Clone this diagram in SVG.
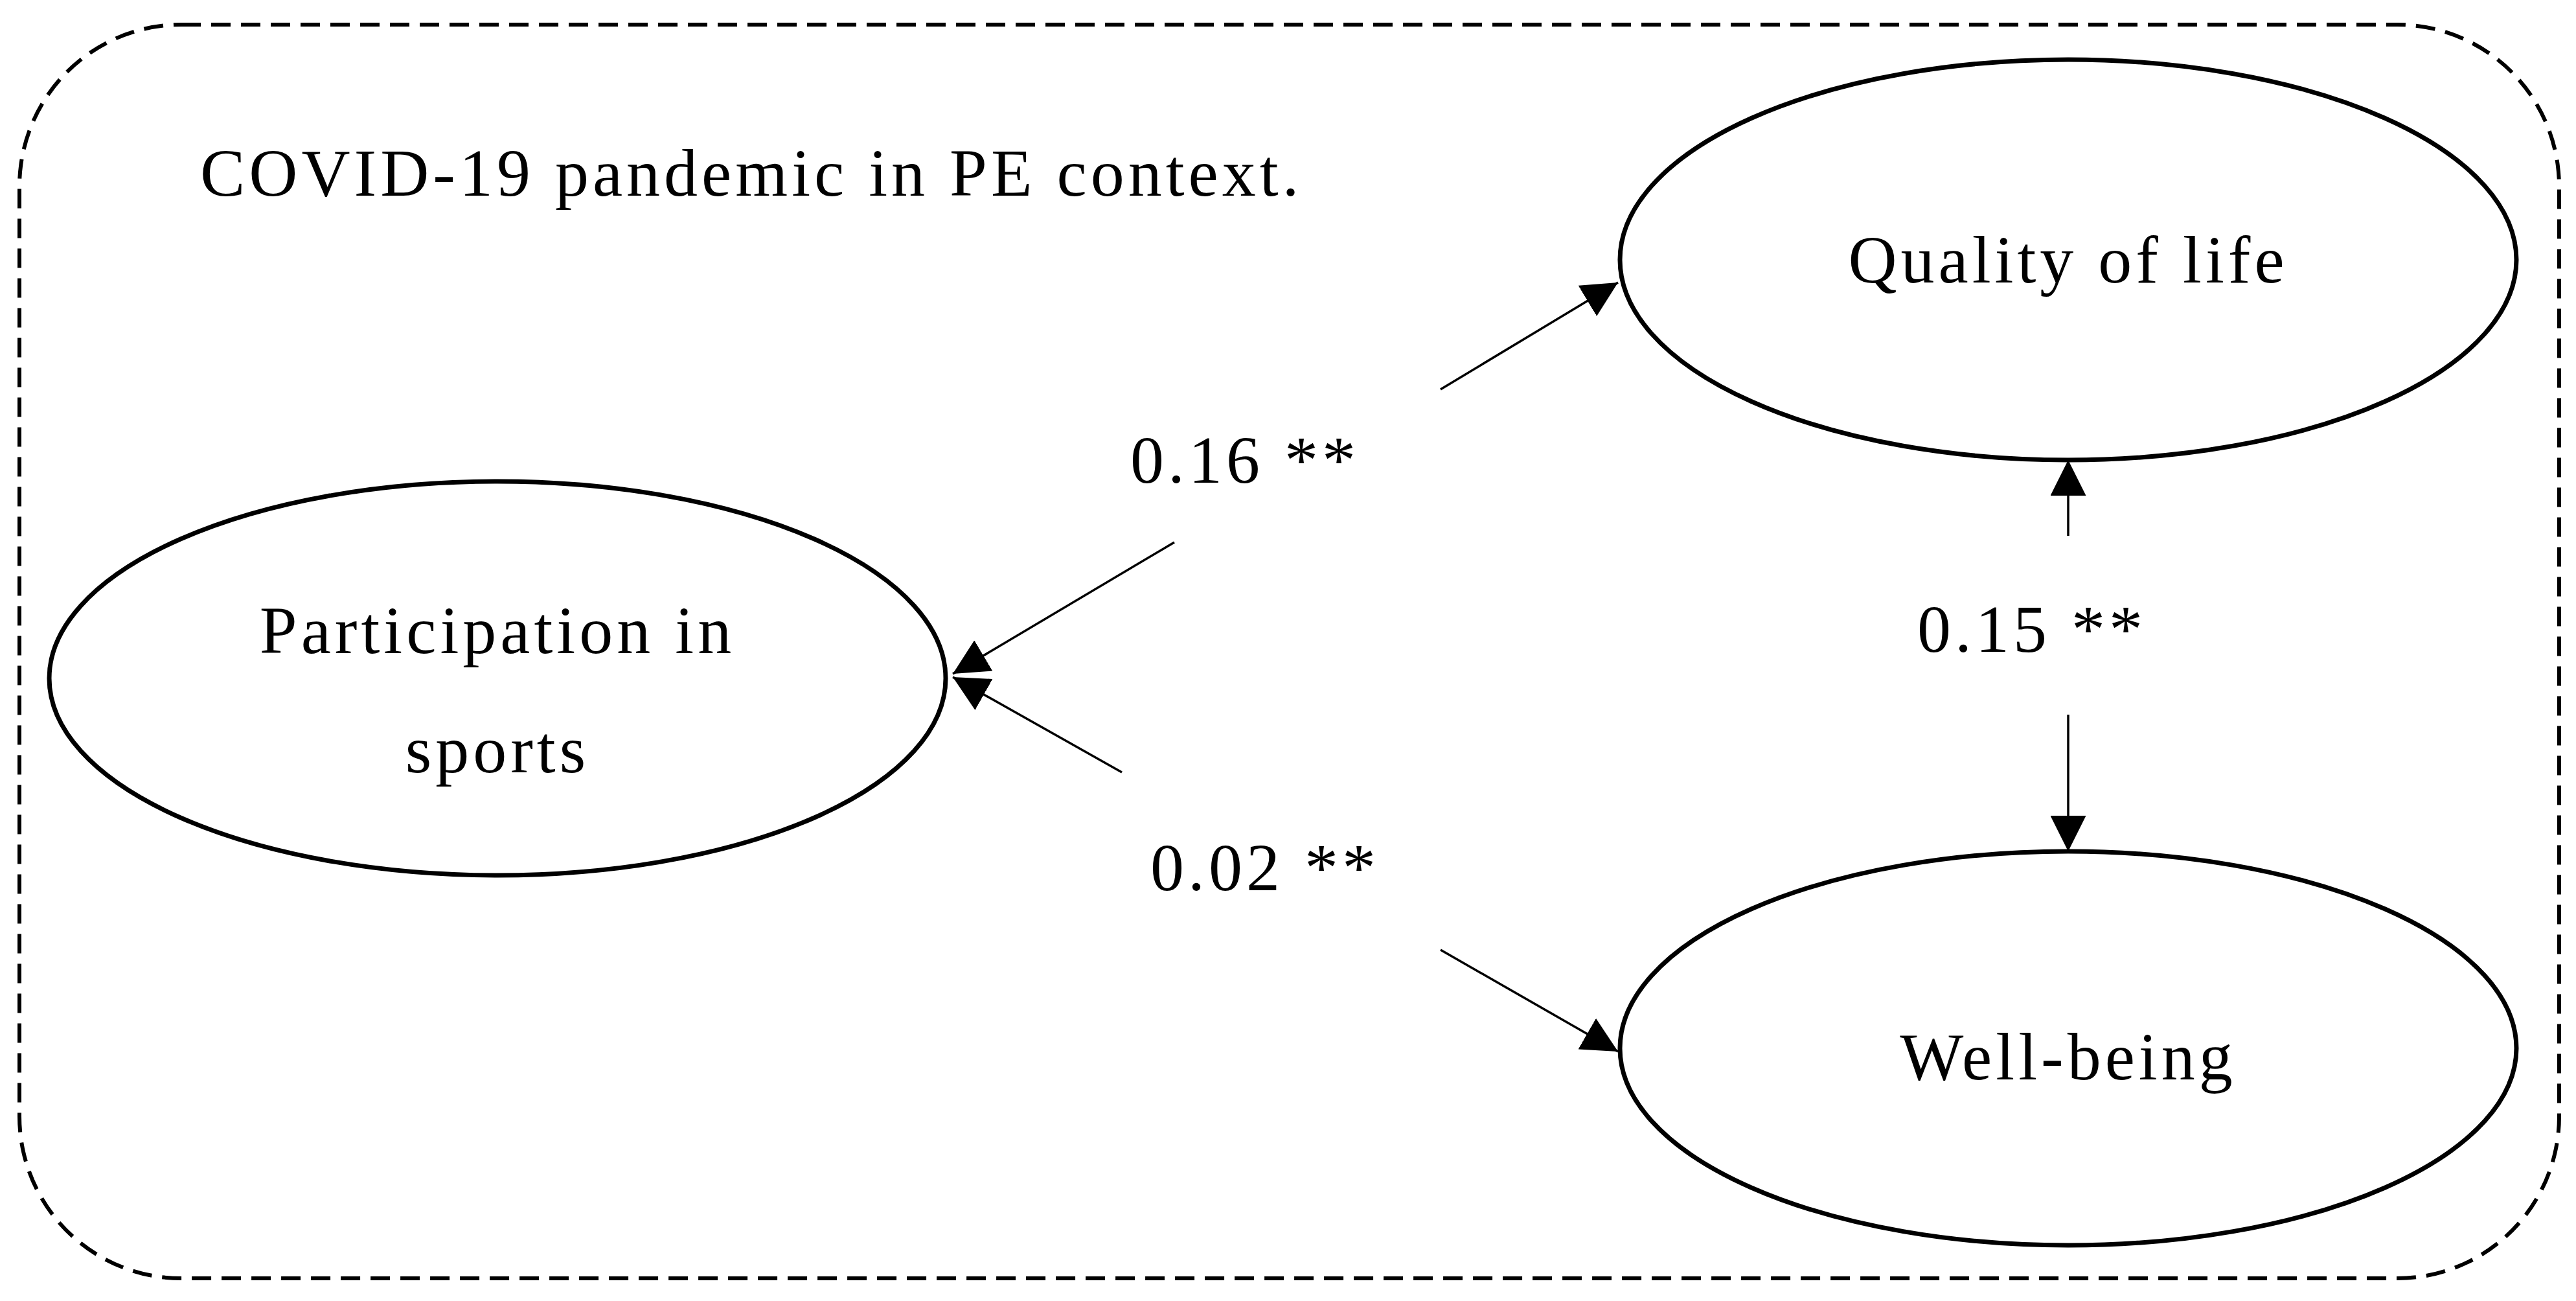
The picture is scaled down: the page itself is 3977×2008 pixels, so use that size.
<svg xmlns="http://www.w3.org/2000/svg" width="3977" height="2008" viewBox="0 0 3977 2008">
<style>
.n{fill:#fff;stroke:#000;stroke-width:7}
.t{font-family:"Liberation Serif",serif;font-size:104px;letter-spacing:6px;fill:#000}
.c{text-anchor:middle}
</style>
<defs>
<marker id="b" viewBox="0 0 10 10" refX="10" refY="5" markerWidth="55" markerHeight="55" markerUnits="userSpaceOnUse" orient="auto"><path d="M0,0L10,5L0,10z" fill="#000"/></marker></defs>
<rect x="30" y="38" width="3921" height="1935" rx="250" fill="none" stroke="#000" stroke-width="6" stroke-dasharray="30 16"/>
<text class="t" x="309" y="302">COVID-19 pandemic in PE context.</text>
<g id="connectors" stroke="#000" stroke-width="3.5" fill="none">
<line x1="2224" y1="601" x2="2498" y2="436" marker-end="url(#b)"/>
<line x1="1813" y1="837" x2="1471" y2="1040" marker-end="url(#b)"/>
<line x1="1732" y1="1192" x2="1471" y2="1045" marker-end="url(#b)"/>
<line x1="2224" y1="1466" x2="2498" y2="1623" marker-end="url(#b)"/>
<line x1="3193" y1="827" x2="3193" y2="710" marker-end="url(#b)"/>
<line x1="3193" y1="1103" x2="3193" y2="1314" marker-end="url(#b)"/>
</g>
<g id="qol"><ellipse class="n" cx="3193" cy="401" rx="692" ry="309"/><text class="t c" x="3193" y="436">Quality of life</text></g>
<g id="part"><ellipse class="n" cx="768" cy="1047" rx="692" ry="304"/><text class="t c" x="768" y="1008">Participation in</text><text class="t c" x="768" y="1192">sports</text></g>
<g id="wb"><ellipse class="n" cx="3193" cy="1618" rx="692" ry="304"/><text class="t c" x="3193" y="1666">Well-being</text></g>
<text class="t c" x="1922" y="745">0.16 **</text>
<text class="t c" x="3137" y="1006">0.15 **</text>
<text class="t c" x="1953" y="1374">0.02 **</text>
</svg>
